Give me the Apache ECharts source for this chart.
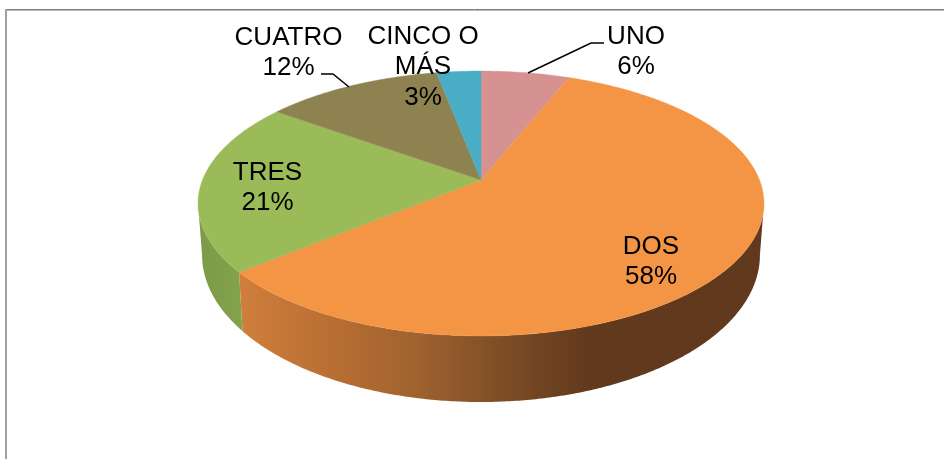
<!DOCTYPE html>
<html><head><meta charset="utf-8">
<style>html,body{margin:0;padding:0;background:#fff}#c{width:944px;height:459px}</style>
<script src="https://cdn.jsdelivr.net/npm/echarts@6/dist/echarts.min.js"></script>
</head><body><div id="c"></div>
<script>
const categories = ['UNO', 'DOS', 'TRES', 'CUATRO', 'CINCO O\nMÁS'];
const percents = [6, 58, 21, 12, 3];
const topColors = ['#D59290', '#F49545', '#9BBB59', '#8E8350', '#4BACC6'];

// Projection of the tilted disc
const TOP = {cx: 481, cy: 180, A: 278.5, B: 128.3};
const BASE = {cx: 481, cy: 228.9, A: 274.5, B: 142.4};
const K = 0.1774;
const labelAt = [[636, 52], [651, 262], [267.5, 188], [288.5, 53], [423, 67]];
const leaders = [
  [[528, 73], [591, 43], [604, 43]], null, null,
  [[321, 74], [333, 74], [349, 87]], null
];
const sideFill = [
  null,
  {type:'linear', global:true, x:238, y:0, x2:764, y2:0, colorStops:[
    {offset:0, color:'#D07F3B'},{offset:0.18, color:'#B86E33'},{offset:0.34, color:'#A0622F'},
    {offset:0.52, color:'#7A4B25'},{offset:0.67, color:'#61391C'},{offset:1, color:'#61391C'}]},
  {type:'linear', global:true, x:198, y:0, x2:245, y2:0, colorStops:[
    {offset:0, color:'#7C9A47'},{offset:1, color:'#84A34C'}]},
  null, null
];

function project(p, deg) {
  const t = deg * Math.PI / 180, u = Math.sin(t), v = -Math.cos(t), w = 1 - K * v;
  return [p.cx + p.A * u / w, p.cy + p.B * v / w];
}
function rim(p, a, b) {
  const pts = [], n = Math.max(2, Math.ceil(Math.abs(b - a) * 2));
  for (let i = 0; i <= n; i++) pts.push(project(p, a + (b - a) * i / n));
  return pts;
}
const total = percents.reduce((s, x) => s + x, 0);
const SIDE_FROM = 100.2, SIDE_TO = 259.8;

const chart = echarts.init(document.getElementById('c'), null, {renderer: 'canvas'});
chart.setOption({
  animation: false,
  backgroundColor: '#fff',
  graphic: [
    {type:'line', silent:true, shape:{x1:5, y1:10.5, x2:944, y2:10.5}, style:{stroke:'#b8b8b8', lineWidth:1}},
    {type:'line', silent:true, shape:{x1:5, y1:9.5, x2:944, y2:9.5}, style:{stroke:'#808080', lineWidth:1}},
    {type:'line', silent:true, shape:{x1:6, y1:9, x2:6, y2:459}, style:{stroke:'#a0a0a0', lineWidth:2}}
  ],
  series: [{
    type: 'custom',
    coordinateSystem: 'none',
    clip: false,
    data: percents.map((v, i) => ({name: categories[i], value: [v, i]})),
    renderItem(params, api) {
      const i = api.value(1), v = api.value(0);
      let before = 0;
      for (let j = 0; j < i; j++) before += percents[j];
      const a = before / total * 360, b = (before + v) / total * 360;
      const children = [];
      const sa = Math.max(a, SIDE_FROM), sb = Math.min(b, SIDE_TO);
      if (sb > sa && sideFill[i]) {
        children.push({type:'polygon', z2:1,
          shape:{points: rim(TOP, sa, sb).concat(rim(BASE, sb, sa))},
          style:{fill: sideFill[i], stroke: 'none'}});
      }
      children.push({type:'polygon', z2:2,
        shape:{points: [[TOP.cx, TOP.cy]].concat(rim(TOP, a, b))},
        style:{fill: topColors[i], stroke: topColors[i], lineWidth: 0.4}});
      if (leaders[i]) {
        children.push({type:'polyline', z2:5, shape:{points: leaders[i]},
          style:{fill:'none', stroke:'#000', lineWidth:1.5}});
      }
      children.push({type:'text', z2:6, style:{
        text: categories[i] + '\n' + v + '%',
        x: labelAt[i][0], y: labelAt[i][1],
        align:'center', verticalAlign:'middle',
        font:'26px "Liberation Sans", Arial, sans-serif', lineHeight:30.5, fill:'#000'}});
      return {type:'group', children};
    }
  }]
});
</script></body></html>
